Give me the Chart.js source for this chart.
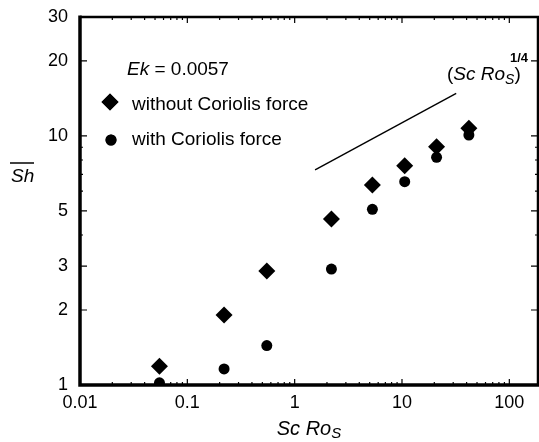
<!DOCTYPE html>
<html>
<head>
<meta charset="utf-8">
<script src="https://cdn.jsdelivr.net/npm/chart.js@4"></script>
<style>
  html, body { margin: 0; padding: 0; background: #fff; }
  #wrap { width: 539px; height: 442px; }
</style>
</head>
<body>
<div id="wrap"><canvas id="chartCanvas" width="539" height="442"></canvas></div>
<script>
// values
const scRos = [0.055, 0.22, 0.55, 2.2, 5.3, 10.6, 21, 42];
const shWithout = [1.19, 1.91, 2.87, 4.64, 6.35, 7.59, 9.05, 10.73];
const shWith = [1.02, 1.16, 1.44, 2.92, 5.07, 6.55, 8.20, 10.08];
const slopeX = [1.55, 32];
const slopeY = [7.3, 14.8];
const xTickValues = [0.01, 0.1, 1, 10, 100];
const yTickValues = [1, 2, 3, 5, 10, 20, 30];
const yMinorValues = [4, 6, 7, 8, 9];

const FONT = '"Liberation Sans", Arial, Helvetica, sans-serif';
Chart.defaults.font.family = FONT;
Chart.defaults.color = '#000';

const pts = (xs, ys) => xs.map((x, i) => ({x: x, y: ys[i]}));

// frame, inward ticks, legend and labels
const decor = {
    id: 'decor',
    afterDraw(chart) {
        const ctx = chart.ctx;
        const a = chart.chartArea;
        const xs = chart.scales.x, ys = chart.scales.y;
        ctx.save();
        ctx.strokeStyle = '#000';
        ctx.fillStyle = '#000';

        // ticks
        ctx.lineWidth = 1.2;
        const xMinor = [];
        for (let d = -2; d <= 2; d++) {
            for (let k = 2; k <= 9; k++) {
                const v = k * Math.pow(10, d);
                if (v < xs.max) xMinor.push(v);
            }
        }
        ctx.beginPath();
        xTickValues.forEach(v => {
            const px = xs.getPixelForValue(v);
            ctx.moveTo(px, a.bottom); ctx.lineTo(px, a.bottom - 6);
            ctx.moveTo(px, a.top); ctx.lineTo(px, a.top + 6);
        });
        xMinor.forEach(v => {
            const px = xs.getPixelForValue(v);
            ctx.moveTo(px, a.bottom); ctx.lineTo(px, a.bottom - 3);
            ctx.moveTo(px, a.top); ctx.lineTo(px, a.top + 3);
        });
        yTickValues.forEach(v => {
            const py = ys.getPixelForValue(v);
            ctx.moveTo(a.left, py); ctx.lineTo(a.left + 7, py);
            ctx.moveTo(a.right, py); ctx.lineTo(a.right - 7, py);
        });
        yMinorValues.forEach(v => {
            const py = ys.getPixelForValue(v);
            ctx.moveTo(a.left, py); ctx.lineTo(a.left + 3, py);
            ctx.moveTo(a.right, py); ctx.lineTo(a.right - 3, py);
        });
        ctx.stroke();

        // frame
        ctx.lineWidth = 3.5;
        ctx.beginPath();
        ctx.moveTo(a.left, a.top - 1.5); ctx.lineTo(a.left, a.bottom);
        ctx.lineTo(a.right + 1, a.bottom);
        ctx.stroke();
        ctx.lineWidth = 2.5;
        ctx.beginPath();
        ctx.moveTo(a.left, a.top); ctx.lineTo(a.right, a.top);
        ctx.lineTo(a.right, a.bottom);
        ctx.stroke();

        // legend block
        ctx.textBaseline = 'middle';
        ctx.textAlign = 'left';
        ctx.font = 'italic 19px ' + FONT;
        ctx.fillText('Ek', 127, 70);
        const ekW = ctx.measureText('Ek').width;
        ctx.font = '19px ' + FONT;
        ctx.fillText(' = 0.0057', 127 + ekW, 70);

        Chart.helpers.drawPoint(ctx, {pointStyle: 'rectRot', radius: 8.5, borderWidth: 0}, 110, 102);
        ctx.fill();
        ctx.fillText('without Coriolis force', 132, 105);
        Chart.helpers.drawPoint(ctx, {pointStyle: 'circle', radius: 5.5, borderWidth: 0}, 111, 140);
        ctx.fill();
        ctx.fillText('with Coriolis force', 132, 140);

        // slope label
        let x = 447;
        ctx.font = '19px ' + FONT;
        ctx.fillText('(', x, 75); x += ctx.measureText('(').width;
        ctx.font = 'italic 19px ' + FONT;
        ctx.fillText('Sc Ro', x, 75); x += ctx.measureText('Sc Ro').width;
        ctx.font = 'italic 14px ' + FONT;
        ctx.fillText('S', x, 80); x += ctx.measureText('S').width;
        ctx.font = '19px ' + FONT;
        ctx.fillText(')', x, 75);
        ctx.font = 'bold 13px ' + FONT;
        ctx.fillText('1/4', 510, 58);

        // x title
        ctx.font = 'italic 20px ' + FONT;
        const w1 = ctx.measureText('Sc Ro').width;
        ctx.font = 'italic 15px ' + FONT;
        const w2 = ctx.measureText('S').width;
        let tx = (a.left + a.right) / 2 - (w1 + w2) / 2;
        ctx.font = 'italic 20px ' + FONT;
        ctx.fillText('Sc Ro', tx, 429);
        ctx.font = 'italic 15px ' + FONT;
        ctx.fillText('S', tx + w1, 434);

        // y title with overline
        ctx.font = 'italic 19px ' + FONT;
        ctx.fillText('Sh', 11, 177);
        ctx.lineWidth = 1.5;
        ctx.beginPath();
        ctx.moveTo(10, 163); ctx.lineTo(34, 163);
        ctx.stroke();
        ctx.restore();
    }
};

const ctx = document.getElementById('chartCanvas').getContext('2d');

const chart = new Chart(ctx, {
    type: 'scatter',
    data: {
        datasets: [{
            label: 'without Coriolis force',
            data: pts(scRos, shWithout),
            pointStyle: 'rectRot',
            pointRadius: 8.5,
            backgroundColor: '#000',
            borderColor: '#000',
            borderWidth: 0
        }, {
            label: 'with Coriolis force',
            data: pts(scRos, shWith),
            pointStyle: 'circle',
            pointRadius: 5.5,
            backgroundColor: '#000',
            borderColor: '#000',
            borderWidth: 0
        }, {
            label: '(Sc Ros)^1/4',
            data: pts(slopeX, slopeY),
            showLine: true,
            pointRadius: 0,
            borderColor: '#000',
            borderWidth: 1.4
        }]
    },
    options: {
        responsive: false,
        animation: false,
        events: [],
        layout: { autoPadding: false, padding: { top: 17, right: 1, left: 0, bottom: 0 } },
        plugins: {
            legend: { display: false },
            tooltip: { enabled: false }
        },
        scales: {
            x: {
                type: 'logarithmic',
                min: 0.01,
                max: 185,
                grid: { display: false, drawTicks: false },
                border: { display: false },
                afterBuildTicks: s => { s.ticks = xTickValues.map(v => ({value: v})); },
                afterFit: s => { s.height = 57; s.paddingLeft = 0; s.paddingRight = 0; },
                ticks: {
                    autoSkip: false,
                    maxRotation: 0,
                    padding: 7,
                    font: { size: 18 },
                    color: '#000',
                    callback: v => String(v)
                }
            },
            y: {
                type: 'logarithmic',
                min: 1,
                max: 30,
                grid: { display: false, drawTicks: false },
                border: { display: false },
                afterBuildTicks: s => { s.ticks = yTickValues.map(v => ({value: v})); },
                afterFit: s => { s.width = 80; s.paddingTop = 0; s.paddingBottom = 0; },
                ticks: {
                    autoSkip: false,
                    padding: 12,
                    font: { size: 18 },
                    color: '#000',
                    callback: v => String(v)
                }
            }
        }
    },
    plugins: [decor]
});
</script>
</body>
</html>
